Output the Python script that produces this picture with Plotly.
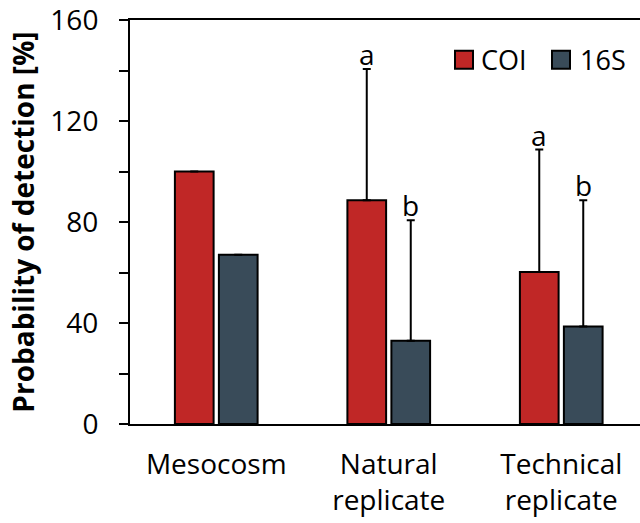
import plotly.graph_objects as go

categories = ["Mesocosm", "Natural<br>replicate", "Technical<br>replicate"]
series_names = ["COI", "16S"]
coi_values = [100, 88.6, 60.2]
s16_values = [67, 33, 38.6]
coi_err = [None, 52, 48.5]
s16_err = [None, 47.7, 50]
coi_letters = ["", "a", "a"]
s16_letters = ["", "b", "b"]
y_ticks = [0, 40, 80, 120, 160]

RED = "#C02726"
DARK = "#394B59"
FONT = "Open Sans"

x = list(range(len(categories)))
bargap = 0.49
bargroupgap = 0.12

fig = go.Figure()
for name, vals, errs, col in [("COI", coi_values, coi_err, RED), ("16S", s16_values, s16_err, DARK)]:
    fig.add_trace(go.Bar(
        x=x, y=vals, name=name,
        marker=dict(color=col, line=dict(color="black", width=2)),
        error_y=dict(type="data", symmetric=False, array=errs,
                     arrayminus=[0 if e is not None else None for e in errs],
                     color="black", thickness=2, width=4, visible=True),
        showlegend=False,
    ))

# significance letters
off = (1 - bargap) / 4
for i in x:
    for letters, vals, errs, sgn in [(coi_letters, coi_values, coi_err, -1), (s16_letters, s16_values, s16_err, 1)]:
        if letters[i]:
            fig.add_annotation(x=i + sgn * off, y=vals[i] + errs[i], text=letters[i],
                               showarrow=False, xref="x", yref="y", yanchor="bottom",
                               font=dict(family=FONT, size=28, color="black"), yshift=-6)

# manual legend (paper coords; plot spans 130..640 px horizontally, 18..424 px vertically)
def px_x(p):
    return (p - 130) / 510
def px_y(p):
    return (424 - p) / 406

legend_items = [(series_names[0], RED, 455, 481), (series_names[1], DARK, 552, 580)]
for name, col, sx, tx in legend_items:
    fig.add_shape(type="rect", xref="paper", yref="paper",
                  x0=px_x(sx), x1=px_x(sx + 18), y0=px_y(67), y1=px_y(49),
                  fillcolor=col, line=dict(color="black", width=2))
    fig.add_annotation(x=px_x(tx - 2), y=px_y(58), xref="paper", yref="paper", text=name,
                       showarrow=False, xanchor="left", yanchor="middle",
                       font=dict(family=FONT, size=27, color="black"))

fig.update_layout(
    width=640, height=523,
    margin=dict(l=130, r=0, t=18, b=99),
    paper_bgcolor="white", plot_bgcolor="white",
    barmode="group", bargap=bargap, bargroupgap=bargroupgap,
    font=dict(family=FONT, color="black"),
    xaxis=dict(
        range=[-0.5, 2.4565], tickmode="array", tickvals=x, ticktext=categories,
        showline=True, linecolor="black", linewidth=2, mirror=True,
        ticks="", showgrid=False, zeroline=False,
        tickfont=dict(family=FONT, size=28, color="black"),
        ticklabelstandoff=14,
    ),
    yaxis=dict(
        range=[0, 160], tickmode="array", tickvals=y_ticks,
        showline=True, linecolor="black", linewidth=2,
        ticks="outside", ticklen=9, tickwidth=2, tickcolor="black",
        minor=dict(ticks="outside", ticklen=9, tickwidth=2, tickcolor="black", dtick=20, tick0=0),
        showgrid=False, zeroline=False,
        tickfont=dict(family=FONT, size=28, color="black"),
        ticklabelstandoff=15, ticklabeloverflow="allow",
        title=dict(text="<b>Probability of detection [%]</b>", font=dict(family=FONT, size=28, color="black"), standoff=8),
    ),
)

fig.write_html("out.html")
